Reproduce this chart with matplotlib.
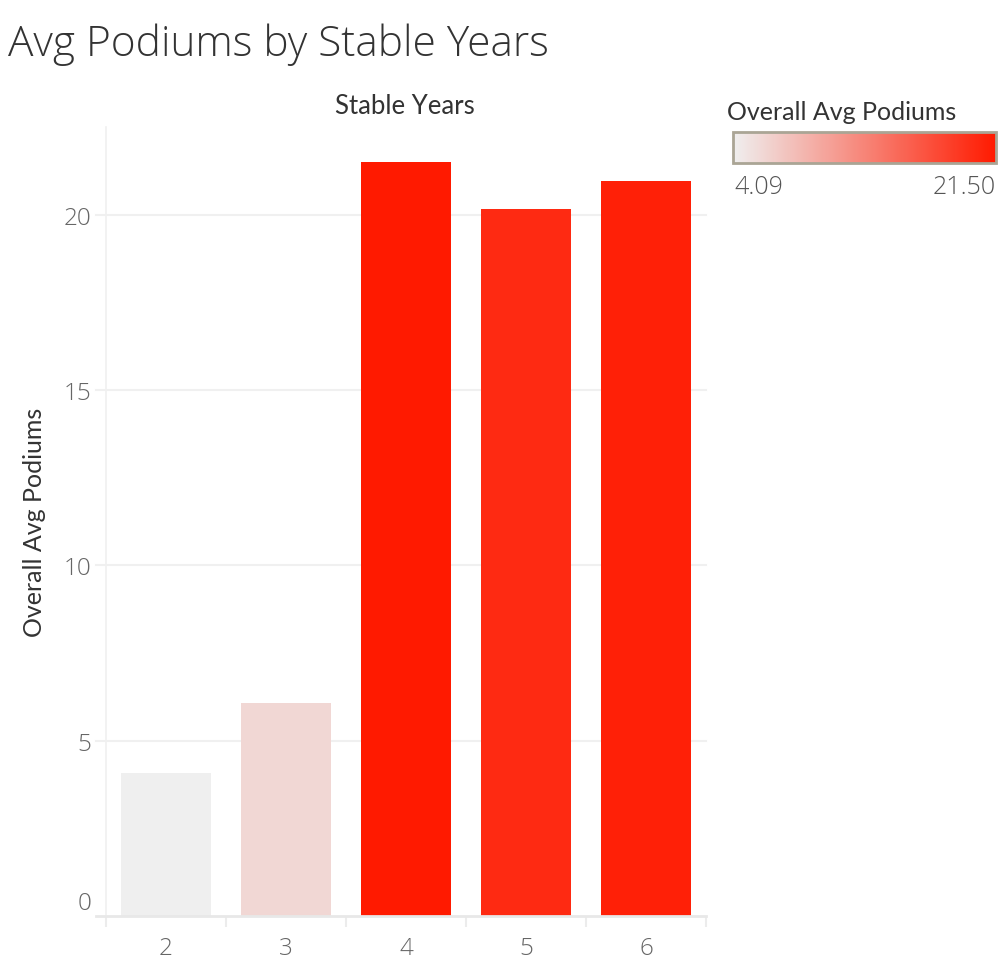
#=========================================================================
# plot.py -- Avg Podiums by Stable Years
#=========================================================================

import matplotlib
matplotlib.use('Agg')
import matplotlib.pyplot as plt
import matplotlib.colors as mcolors
import matplotlib.transforms as mtrans
import matplotlib.cm as cm

#-------------------------------------------------------------------------
# Data
#-------------------------------------------------------------------------

stable_years = ['2', '3', '4', '5', '6']
avg_podiums  = [4.09, 6.08, 21.50, 20.16, 20.96]
y_ticks      = [0, 5, 10, 15, 20]
legend_lo    = 4.09
legend_hi    = 21.50

#-------------------------------------------------------------------------
# Configure matplotlib
#-------------------------------------------------------------------------

plt.rcParams['font.family'] = ['Lato', 'DejaVu Sans']
plt.rcParams['figure.dpi']  = 100

W, H = 1006, 962
fig = plt.figure(figsize=(W/100, H/100))

cmap = mcolors.LinearSegmentedColormap.from_list('podiums', ['#efefef', '#ff1a00'])
norm = mcolors.Normalize(vmin=legend_lo, vmax=legend_hi)

TICK_FONT = ['Open Sans', 'Lato', 'DejaVu Sans']

#-------------------------------------------------------------------------
# Bars
#-------------------------------------------------------------------------

ax_l, ax_r, ax_t, ax_b = 106, 706, 128, 917
ax = fig.add_axes([ax_l/W, 1 - ax_b/H, (ax_r-ax_l)/W, (ax_b-ax_t)/H])

xpos = range(len(stable_years))
ax.bar(xpos, avg_podiums, width=0.75, color=[cmap(norm(v)) for v in avg_podiums],
       zorder=3)

ax.set_xlim(-0.5, len(stable_years) - 0.5)
ax.set_ylim(0, 22.5)

for s in ['top', 'right', 'bottom']:
    ax.spines[s].set_visible(False)
ax.spines['left'].set_color('#f0f0f0')
ax.spines['left'].set_linewidth(1.2)

grid_ext = -10.0 / (ax_r - ax_l)
for t in y_ticks[1:]:
    ax.axhline(t, xmin=grid_ext, xmax=1, color='#f0f0f0', lw=1.5,
               clip_on=False, zorder=1)
ax.axhline(0, xmin=grid_ext, xmax=1, color='#e8e8e8', lw=2,
           clip_on=False, zorder=4)

ax.set_yticks(y_ticks)
ax.set_yticklabels([str(t) for t in y_ticks])
ax.tick_params(axis='y', length=0, pad=10.5, labelsize=17.5, labelcolor='#666666')
ax.get_yticklabels()[0].set_transform(
    ax.get_yticklabels()[0].get_transform() +
    mtrans.ScaledTranslation(0, 16/100, fig.dpi_scale_trans))

ax.set_xticks(list(xpos))
ax.set_xticklabels(stable_years)
ax.set_xticks([i - 0.5 for i in range(len(stable_years) + 1)], minor=True)
ax.tick_params(axis='x', which='major', length=0, pad=14.5, labelsize=17.5,
               labelcolor='#666666')
ax.tick_params(axis='x', which='minor', length=8, width=1.5, color='#ececec')

for lbl in ax.get_xticklabels() + ax.get_yticklabels():
    lbl.set_family(TICK_FONT)
    lbl.set_fontweight('light')

ax.set_ylabel('Overall Avg Podiums', fontsize=18, color='#333333')
ax.yaxis.set_label_coords((46 - ax_l)/(ax_r - ax_l), 0.5, transform=ax.transAxes)

# column header
fig.text(405/W, 1 - 107/H, 'Stable Years', fontsize=18.5, color='#333333',
         ha='center', va='center')

# title
fig.text(8/W, 1 - 45/H, 'Avg Podiums by Stable Years', fontsize=30.5,
         family=TICK_FONT, fontweight='light', color='#333333',
         ha='left', va='center')

#-------------------------------------------------------------------------
# Colour legend
#-------------------------------------------------------------------------

fig.text(727/W, 1 - 113/H, 'Overall Avg Podiums', fontsize=18, color='#333333',
         ha='left', va='center')

cax = fig.add_axes([733/W, 1 - 164/H, (996-733)/W, (164-133)/H])
sm = cm.ScalarMappable(norm=norm, cmap=cmap)
cb = fig.colorbar(sm, cax=cax, orientation='horizontal')
cb.set_ticks([])
cb.outline.set_edgecolor('#aaa595')
cb.outline.set_linewidth(2)

fig.text(734/W, 1 - 188/H, '%.2f' % legend_lo, fontsize=18, family=TICK_FONT,
         fontweight='light', color='#555555', ha='left', va='center')
fig.text(996/W, 1 - 188/H, '%.2f' % legend_hi, fontsize=18, family=TICK_FONT,
         fontweight='light', color='#555555', ha='right', va='center')

#-------------------------------------------------------------------------
# Save
#-------------------------------------------------------------------------

fig.savefig('out.png', dpi=100)
